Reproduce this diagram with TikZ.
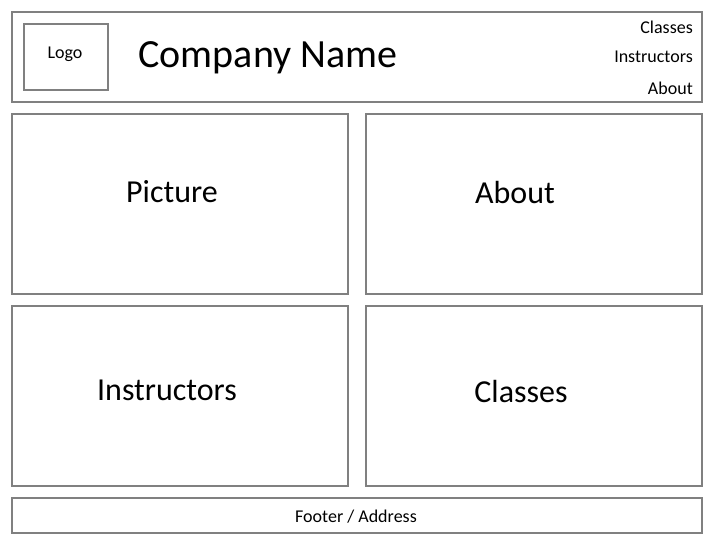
\documentclass[tikz,border=0pt]{standalone}
\usepackage{fontspec}
\setmainfont{Carlito}
\begin{document}
\begin{tikzpicture}[x=1pt,y=-1pt,
  frame/.style={draw=black!50,line width=1.5pt,inner sep=0pt,outer sep=0pt},
  big/.style={font=\fontsize{32}{36}\selectfont,inner sep=0pt,anchor=base},
  small/.style={font=\fontsize{18}{20}\selectfont,inner sep=0pt,anchor=base},
  title/.style={font=\fontsize{40}{44}\selectfont,inner sep=0pt,anchor=base}]
\useasboundingbox (0,0) rectangle (720,540);
% page regions
\path[frame] (12,12) rectangle (702,102);
\path[frame] (24,24) rectangle (108,90);
\path[frame] (12,114) rectangle (348,294);
\path[frame] (366,114) rectangle (702,294);
\path[frame] (12,306) rectangle (348,486);
\path[frame] (366,306) rectangle (702,486);
\path[frame] (12,498) rectangle (702,533);
% header texts
\node[small] (logo) at (65,59) {Logo};
\node[title] (company) at (268,68) {Company Name};
\node[small,anchor=base east] (navclasses) at (693,34) {Classes};
\node[small,anchor=base east] (navinstructors) at (693,63) {Instructors};
\node[small,anchor=base east] (navabout) at (693,95) {About};
% panel texts
\node[big] (picture) at (172,203) {Picture};
\node[big] (about) at (515,204) {About};
\node[big] (instructors) at (167,400) {Instructors};
\node[big] (classes) at (521,402) {Classes};
\node[small] (footer) at (356,522) {Footer / Address};
\end{tikzpicture}
\end{document}
